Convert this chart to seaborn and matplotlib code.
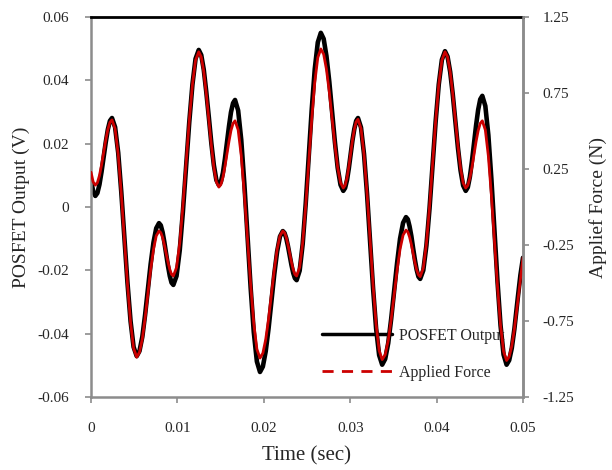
import matplotlib
matplotlib.use("Agg")
import matplotlib.pyplot as plt
import seaborn as sns
import pandas as pd
from matplotlib.lines import Line2D

# ---- data ----
time_s = [
    0, 0.00025, 0.0005,
    0.00074, 0.00098, 0.00122, 0.00147, 0.00171, 0.00195, 0.00219, 0.00243,
    0.00279, 0.00315, 0.0035, 0.00386, 0.00422, 0.00458, 0.00493, 0.00529,
    0.00561, 0.00594, 0.00626, 0.00658, 0.0069, 0.00723, 0.00755, 0.00787,
    0.00808, 0.00829, 0.00849, 0.0087, 0.00891, 0.00912, 0.00932, 0.00953,
    0.0099, 0.01027, 0.01063, 0.011, 0.01137, 0.01174, 0.0121, 0.01247,
    0.01276, 0.01305, 0.01334, 0.01364, 0.01393, 0.01422, 0.01451, 0.0148,
    0.01503, 0.01527, 0.0155, 0.01574, 0.01597, 0.0162, 0.01644, 0.01667,
    0.01703, 0.01739, 0.01775, 0.01812, 0.01848, 0.01884, 0.0192, 0.01956,
    0.01989, 0.02022, 0.02055, 0.02088, 0.02121, 0.02154, 0.02187, 0.0222,
    0.0224, 0.0226, 0.0228, 0.023, 0.0232, 0.0234, 0.0236, 0.0238,
    0.02415, 0.0245, 0.02485, 0.0252, 0.02555, 0.0259, 0.02625, 0.0266,
    0.02693, 0.02725, 0.02758, 0.0279, 0.02823, 0.02855, 0.02888, 0.0292,
    0.02941, 0.02963, 0.02984, 0.03005, 0.03026, 0.03048, 0.03069, 0.0309,
    0.03125, 0.0316, 0.03195, 0.0323, 0.03265, 0.033, 0.03335, 0.0337,
    0.03405, 0.0344, 0.03474, 0.03508, 0.03543, 0.03577, 0.03612, 0.03646,
    0.03667, 0.03687, 0.03708, 0.03728, 0.03749, 0.03769, 0.0379, 0.0381,
    0.03846, 0.03882, 0.03918, 0.03954, 0.03989, 0.04025, 0.04061, 0.04097,
    0.04127, 0.04157, 0.04187, 0.04217, 0.04247, 0.04277, 0.04307, 0.04337,
    0.04361, 0.04385, 0.04409, 0.04433, 0.04457, 0.04481, 0.04505, 0.04529,
    0.04564, 0.04599, 0.04634, 0.0467, 0.04705, 0.0474, 0.04775, 0.0481,
    0.0484, 0.0487, 0.049, 0.0494, 0.0497, 0.05]

posfet_v = [
    0.0085, 0.0050, 0.0035,
    0.0044, 0.0071, 0.0111, 0.0158, 0.0205, 0.0245, 0.0272, 0.0281,
    0.0252, 0.0171, 0.0049, -0.0095, -0.0239, -0.0361, -0.0442, -0.0471,
    -0.0455, -0.0410, -0.0341, -0.0261, -0.0181, -0.0112, -0.0067, -0.0051,
    -0.0058, -0.0080, -0.0111, -0.0149, -0.0186, -0.0218, -0.0239, -0.0246,
    -0.0218, -0.0137, -0.0017, 0.0125, 0.0267, 0.0387, 0.0468, 0.0496,
    0.0480, 0.0434, 0.0364, 0.0283, 0.0201, 0.0132, 0.0085, 0.0069,
    0.0079, 0.0108, 0.0152, 0.0204, 0.0255, 0.0299, 0.0328, 0.0338,
    0.0305, 0.0212, 0.0073, -0.0092, -0.0256, -0.0395, -0.0488, -0.0521,
    -0.0504, -0.0456, -0.0384, -0.0299, -0.0213, -0.0141, -0.0093, -0.0076,
    -0.0082, -0.0099, -0.0124, -0.0154, -0.0183, -0.0208, -0.0225, -0.0231,
    -0.0201, -0.0117, 0.0010, 0.0160, 0.0309, 0.0436, 0.0520, 0.0550,
    0.0531, 0.0477, 0.0396, 0.0301, 0.0205, 0.0124, 0.0070, 0.0051,
    0.0060, 0.0085, 0.0122, 0.0166, 0.0210, 0.0247, 0.0272, 0.0281,
    0.0251, 0.0167, 0.0041, -0.0109, -0.0258, -0.0384, -0.0468, -0.0498,
    -0.0480, -0.0430, -0.0354, -0.0265, -0.0176, -0.0100, -0.0050, -0.0032,
    -0.0039, -0.0061, -0.0092, -0.0130, -0.0167, -0.0198, -0.0220, -0.0227,
    -0.0200, -0.0122, -0.0005, 0.0133, 0.0270, 0.0387, 0.0465, 0.0492,
    0.0475, 0.0427, 0.0356, 0.0272, 0.0187, 0.0116, 0.0068, 0.0051,
    0.0062, 0.0095, 0.0144, 0.0201, 0.0258, 0.0307, 0.0340, 0.0351,
    0.0319, 0.0227, 0.0089, -0.0074, -0.0236, -0.0374, -0.0466, -0.0498,
    -0.0484, -0.0446, -0.0386, -0.0286, -0.0215, -0.0160]

force_n = [
    0.229, 0.165, 0.144,
    0.160, 0.207, 0.276, 0.359, 0.441, 0.510, 0.557, 0.573,
    0.514, 0.345, 0.091, -0.208, -0.506, -0.760, -0.929, -0.988,
    -0.956, -0.867, -0.732, -0.573, -0.414, -0.280, -0.190, -0.158,
    -0.169, -0.201, -0.249, -0.306, -0.363, -0.411, -0.443, -0.454,
    -0.398, -0.238, 0.001, 0.284, 0.566, 0.805, 0.965, 1.021,
    0.987, 0.891, 0.746, 0.576, 0.406, 0.261, 0.165, 0.131,
    0.147, 0.195, 0.266, 0.349, 0.432, 0.503, 0.550, 0.567,
    0.508, 0.338, 0.085, -0.214, -0.512, -0.766, -0.935, -0.994,
    -0.962, -0.872, -0.736, -0.576, -0.416, -0.280, -0.190, -0.158,
    -0.169, -0.201, -0.249, -0.306, -0.363, -0.411, -0.443, -0.454,
    -0.397, -0.235, 0.007, 0.293, 0.579, 0.821, 0.983, 1.040,
    1.005, 0.906, 0.758, 0.583, 0.408, 0.259, 0.160, 0.125,
    0.142, 0.191, 0.265, 0.351, 0.438, 0.511, 0.560, 0.577,
    0.517, 0.346, 0.089, -0.214, -0.516, -0.773, -0.944, -1.004,
    -0.972, -0.879, -0.741, -0.578, -0.415, -0.277, -0.185, -0.152,
    -0.164, -0.197, -0.247, -0.305, -0.364, -0.413, -0.446, -0.458,
    -0.402, -0.242, -0.001, 0.282, 0.564, 0.805, 0.965, 1.021,
    0.987, 0.890, 0.744, 0.573, 0.402, 0.256, 0.159, 0.125,
    0.142, 0.190, 0.261, 0.346, 0.431, 0.502, 0.550, 0.567,
    0.507, 0.336, 0.080, -0.222, -0.523, -0.779, -0.950, -1.010,
    -0.985, -0.915, -0.804, -0.620, -0.475, -0.333]

x_ticks = [0, 0.01, 0.02, 0.03, 0.04, 0.05]
x_tick_labels = ["0", "0.01", "0.02", "0.03", "0.04", "0.05"]
left_ticks = [-0.06, -0.04, -0.02, 0, 0.02, 0.04, 0.06]
left_tick_labels = ["-0.06", "-0.04", "-0.02", "0", "0.02", "0.04", "0.06"]
right_ticks = [-1.25, -0.75, -0.25, 0.25, 0.75, 1.25]
right_tick_labels = ["-1.25", "-0.75", "-0.25", "0.25", "0.75", "1.25"]

series_names = ["POSFET Output", "Applied Force"]
x_label = "Time (sec)"
left_label = "POSFET Output (V)"
right_label = "Applief Force (N)"

df = pd.DataFrame({"t": time_s, "v": posfet_v, "f": force_n})

sns.set_theme(style="white")
plt.rcParams["font.family"] = ["Liberation Serif", "DejaVu Serif"]

fig = plt.figure(figsize=(6.12, 4.70), dpi=100)
ax1 = fig.add_axes([91 / 612, 1 - 397 / 470, 432 / 612, 380 / 470])
ax2 = ax1.twinx()

sns.lineplot(data=df, x="t", y="v", ax=ax1, color="black", lw=3.3, sort=False,
             estimator=None)
sns.lineplot(data=df, x="t", y="f", ax=ax2, color="#cc0000", lw=2.0, sort=False,
             estimator=None)
for ln in ax1.get_lines() + ax2.get_lines():
    ln.set_solid_joinstyle("round")
    ln.set_solid_capstyle("round")

ax1.set_xlim(0, 0.05)
ax1.set_ylim(-0.06, 0.06)
ax2.set_ylim(-1.25, 1.25)

gray = "#8c8c8c"
ax1.set_xticks(x_ticks)
ax1.set_xticklabels(x_tick_labels)
ax1.set_yticks(left_ticks)
ax1.set_yticklabels(left_tick_labels)
ax2.set_yticks(right_ticks)
ax2.set_yticklabels(right_tick_labels)

ax1.tick_params(axis="x", direction="out", length=4, width=1.2, color=gray,
                labelsize=11, pad=14, bottom=True)
ax1.tick_params(axis="y", direction="out", length=4, width=1.2, color=gray,
                labelsize=11, pad=11.5, left=True)
ax2.tick_params(axis="y", direction="out", length=4, width=1.2, color=gray,
                labelsize=11, pad=10, right=True)

for side in ["left", "bottom", "right"]:
    ax1.spines[side].set_color(gray)
    ax1.spines[side].set_linewidth(1.8)
ax1.spines["top"].set_color("black")
ax1.spines["top"].set_linewidth(2.0)
ax2.spines["right"].set_color(gray)
ax2.spines["right"].set_linewidth(1.8)
for side in ["left", "bottom", "top"]:
    ax2.spines[side].set_visible(False)

ax1.set_xlabel(x_label, fontsize=15)
ax1.set_ylabel(left_label, fontsize=14)
ax2.set_ylabel(right_label, fontsize=14, rotation=90)
ax1.xaxis.label.set_verticalalignment("center")
ax1.yaxis.label.set_verticalalignment("center")
ax2.yaxis.label.set_verticalalignment("center")
ax1.xaxis.set_label_coords(0.5, -(456 - 397) / 380)
ax1.yaxis.set_label_coords(-(91 - 21) / 432, 0.5)
ax2.yaxis.set_label_coords((598 - 91) / 432, 0.5)
ax1.grid(False)
ax2.grid(False)

handles = [Line2D([], [], color="black", lw=2.5),
           Line2D([], [], color="#cc0000", lw=2.0, ls=(0, (4, 3)))]
leg = ax2.legend(handles, series_names, loc="upper left",
                 bbox_to_anchor=((322 - 91) / 432, (397 - 328) / 380),
                 frameon=False, fontsize=11.5, handlelength=4.4,
                 handletextpad=0.4, labelspacing=1.3, borderpad=0,
                 borderaxespad=0)
leg.set_zorder(0)

fig.savefig("out.png", dpi=100)
